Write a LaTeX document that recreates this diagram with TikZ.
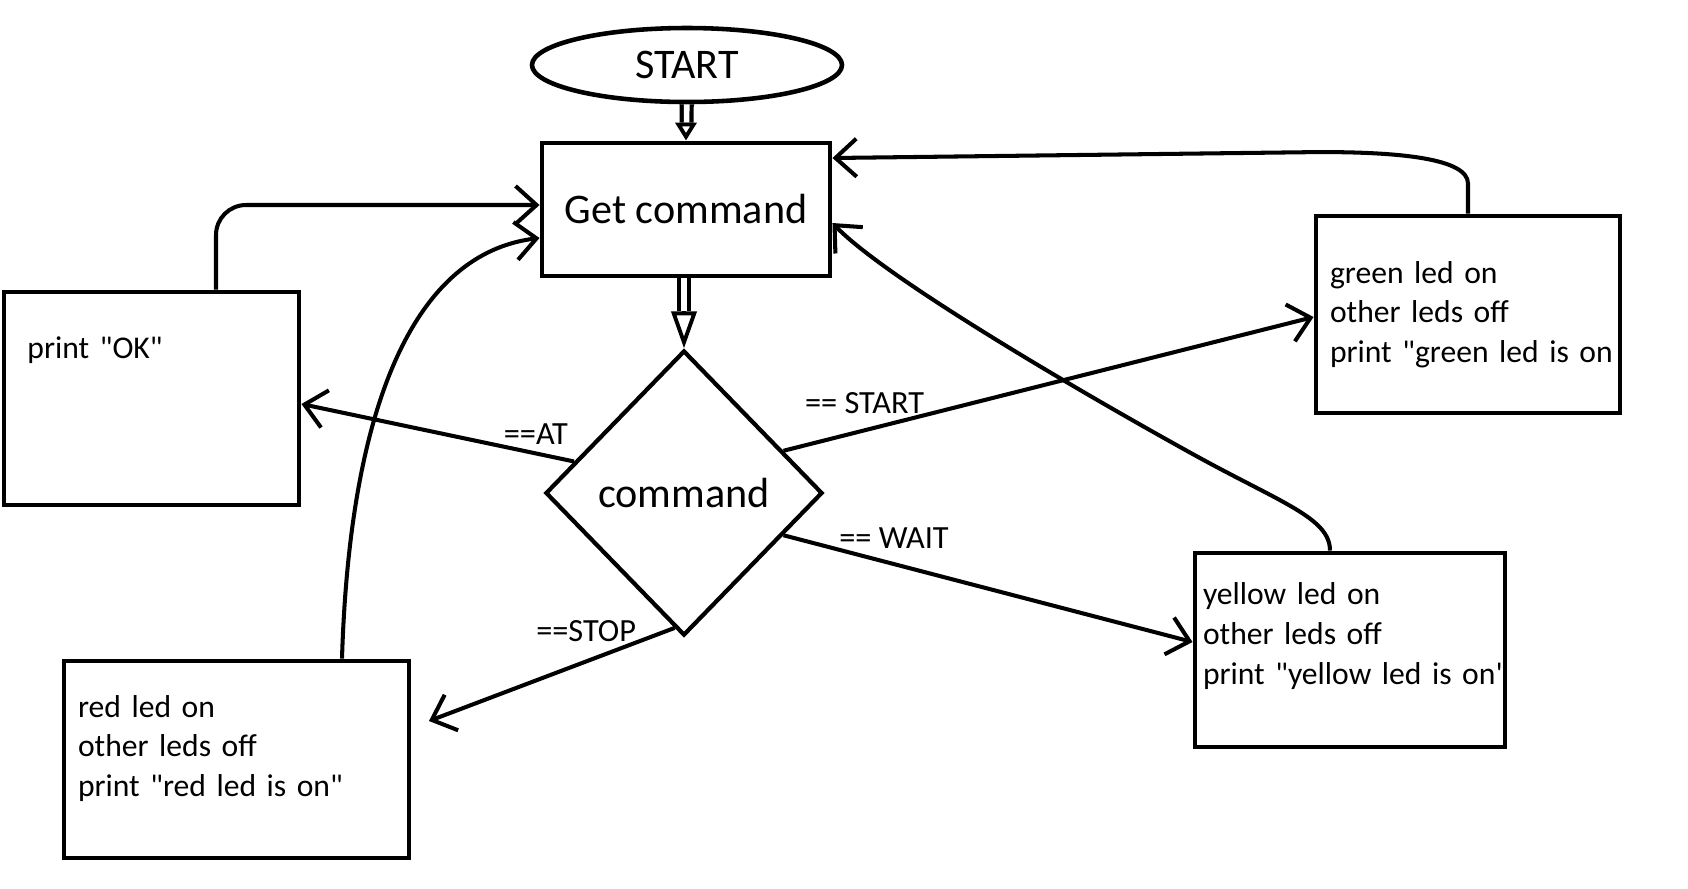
\documentclass[tikz,border=0pt]{standalone}
\usepackage{fontspec}
\setmainfont{Carlito}[Ligatures=TeXOff]
\usetikzlibrary{shapes.geometric, arrows.meta, positioning, calc}

\newcommand{\bigtxt}{\fontsize{12pt}{14.5pt}\selectfont}
\newcommand{\smalltxt}{\fontsize{9pt}{11.3pt}\selectfont}
\newcommand{\lbltxt}{\fontsize{9.2pt}{11pt}\selectfont}

\begin{document}
\begin{tikzpicture}[
  stepbox/.style={draw, line width=1.4pt, align=left, font=\smalltxt, minimum height=1.97cm},
  terminal/.style={draw, ellipse, line width=1.3pt, font=\bigtxt, inner sep=0pt, minimum width=3.1cm, minimum height=0.74cm},
  decision/.style={draw, diamond, line width=1.2pt, font=\bigtxt, inner sep=0pt, minimum width=2.77cm, minimum height=2.85cm},
  flow/.style={line width=1.15pt, -{Straight Barb[length=0.21cm, width=0.38cm]}},
  dbl/.style={double, line width=1.2pt, double distance=1.6pt},
  lbl/.style={font=\lbltxt, inner sep=2pt}
]
  \path[use as bounding box, fill=white] (0,0) rectangle (16.88,-8.88);

  \node[terminal] (start) at (6.87,-0.65) {START};
  \node[draw, line width=1.4pt, font=\bigtxt, minimum width=2.88cm, minimum height=1.33cm] (get) at (6.86,-2.095) {Get command};
  \node[decision] (cmd) at (6.84,-4.93) {command};

  \node[stepbox, text width=2.48cm, minimum width=2.95cm, minimum height=2.13cm] (ok) at (1.515,-3.985) {print "OK"\par\kern0.97cm};
  \node[stepbox, text width=2.76cm, minimum width=3.04cm] (green) at (14.68,-3.145) {green led on\\other leds off\\\mbox{print "green led is on}};
  \node[stepbox, text width=2.94cm, inner xsep=0.05cm, minimum width=3.10cm, minimum height=1.94cm] (yellow) at (13.50,-6.50) {yellow led on\\other leds off\\\mbox{print "yellow led is on"}\par\kern0.28cm};
  \node[stepbox, text width=3.17cm, minimum width=3.45cm] (red) at (2.365,-7.595) {red led on\\other leds off\\print "red led is on"\par\kern0.22cm};

  % hollow double arrows
  \draw[dbl, shorten >=0.18cm] (start) -- (get);
  \draw[line width=1.1pt, -{Triangle[open, length=0.18cm, width=0.21cm]}] ([yshift=0.18cm]get.north) -- (get.north);
  \draw[dbl, shorten >=0.37cm] (get.south -| cmd.north) -- (cmd.north);
  \draw[line width=1.1pt, -{Triangle[open, length=0.37cm, width=0.25cm]}] ([yshift=0.37cm]cmd.north) -- (cmd.north);

  % branches
  \draw[flow] (cmd.164) -- ([yshift=-0.055cm]ok.east) node[lbl, pos=0.14, above] {==AT};
  \draw[flow] (cmd.23) -- ([yshift=-0.025cm]green.west) node[lbl, pos=0.153, above=0.08cm] {== START};
  \draw[flow] (cmd.-23) -- ([yshift=0.08cm]yellow.west) node[lbl, pos=0.27, above=0.07cm] {== WAIT};
  \draw[flow] (cmd.266) -- ([xshift=0.175cm, yshift=0.385cm]red.east) node[lbl, pos=0.36, above=0.11cm] {==STOP};

  % back to Get command
  \draw[flow, rounded corners=0.3cm] ([xshift=0.645cm]ok.north) |- ([yshift=0.045cm]get.west);
  \draw[flow] ([xshift=1.055cm]red.north) .. controls +(0.08,2.61) and +(-1.22,-0.15) .. ([yshift=-0.285cm]get.west);
  \draw[flow] (green.north) -- ++(0,0.3) .. controls +(0,0.25) and +(0.8,0) .. ++(-1.48,0.315) -- ([yshift=0.515cm]get.east);
  \draw[flow] ([xshift=-0.2cm]yellow.north) .. controls +(0,0.33) and +(0.9,-0.5) .. ++(-1.4,0.98) .. controls +(-1.3,0.72) and +(0.5,-0.52) .. ([yshift=-0.135cm]get.east);
\end{tikzpicture}
\end{document}
